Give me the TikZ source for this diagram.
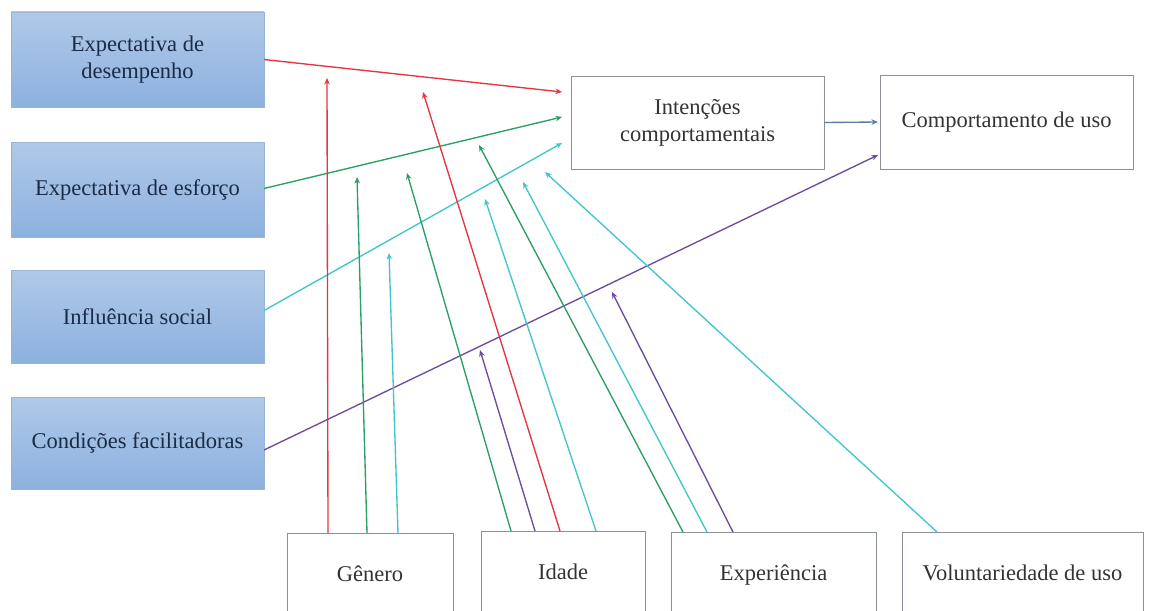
\documentclass[tikz,border=0pt]{standalone}
\usepackage{fontspec}
\setmainfont{Liberation Serif}
\usetikzlibrary{arrows.meta}

\definecolor{facTop}{HTML}{B0C9E9}
\definecolor{facBot}{HTML}{8CB1DE}
\definecolor{facEdge}{HTML}{9AB4D8}
\definecolor{facText}{HTML}{1C2B45}
\definecolor{boxEdge}{HTML}{8C9098}
\definecolor{boxText}{HTML}{333333}
\definecolor{lnRed}{HTML}{E8343E}
\definecolor{lnGreen}{HTML}{2BA062}
\definecolor{lnCyan}{HTML}{40C6CC}
\definecolor{lnPurple}{HTML}{6E4C9E}
\definecolor{lnSteel}{HTML}{5B7BA8}

\begin{document}
\begin{tikzpicture}[x=1pt,y=-1pt,
  txt/.style={font=\fontsize{22.5}{27}\selectfont, align=center},
  factor/.style={txt, text=facText, draw=facEdge, line width=0.8pt,
    top color=facTop, bottom color=facBot, minimum width=253, inner sep=0pt, outer sep=0pt},
  plainbox/.style={txt, text=boxText, draw=boxEdge, line width=1pt, fill=white,
    inner sep=0pt, outer sep=0pt},
  modbox/.style={plainbox, anchor=north, minimum height=84, text height=17pt, text depth=5pt},
  link/.style={line width=1.35pt, -{Stealth[length=6.5pt,width=5.5pt]}},
  redln/.style={link, lnRed},
  greenln/.style={link, lnGreen},
  cyanln/.style={link, lnCyan},
  purpleln/.style={link, lnPurple},
  steelln/.style={link, lnSteel}]

\clip (0,0) rectangle (1153,610);
\fill[white] (0,0) rectangle (1153,610);

% determinants
\node[factor, minimum height=95] (b1) at (137.5,59.5) {Expectativa de\\desempenho};
\node[factor, minimum height=95] (b2) at (137.5,189.5) {Expectativa de esforço};
\node[factor, minimum height=93] (b3) at (137.5,316.5) {Influência social};
\node[factor, minimum height=92] (b4) at (137.5,443) {Condições facilitadoras};

% outcomes
\node[plainbox, minimum width=253, minimum height=93] (int) at (697.5,122.5) {Intenções\\comportamentais};
\node[plainbox, minimum width=253, minimum height=94] (comp) at (1006.5,122) {Comportamento de uso};

% moderators
\node[modbox, minimum width=166] (gen) at (370,533) {Gênero};
\node[modbox, minimum width=164] (ida) at (563,531) {Idade};
\node[modbox, minimum width=205] (exp) at (773.5,532) {Experiência};
\node[modbox, minimum width=241] (vol) at (1022.5,532) {Voluntariedade de uso};

% arrow tips that end in open space (on or near other arrows)
\coordinate (tGenR) at (327,78);
\coordinate (tGenG) at (357,177);
\coordinate (tGenC) at (389,253);
\coordinate (tIdaG) at (407,173);
\coordinate (tIdaP) at (480,350);
\coordinate (tIdaR) at (423,92);
\coordinate (tIdaC) at (485,199);
\coordinate (tExpG) at (479,145);
\coordinate (tExpC) at (523,182);
\coordinate (tExpP) at (612,292);
\coordinate (tVolC) at (545,172);
\coordinate (inR) at (562,92);
\coordinate (inG) at (562,117);
\coordinate (inC) at (562,143);

% main paths
\draw[redln] (b1.east) -- (inR);
\draw[greenln] ([yshift=1pt]b2.east) -- (inG);
\draw[cyanln] ([yshift=6pt]b3.east) -- (inC);
\draw[purpleln] ([yshift=-7pt]b4.east) -- ([xshift=-2pt,yshift=-33pt]comp.west);
\draw[steelln] (int.east) -- ([xshift=-2pt]comp.west);

% moderating effects
\draw[redln] ([xshift=41pt]gen.north west) -- (tGenR);
\draw[greenln] ([xshift=80pt]gen.north west) -- (tGenG);
\draw[cyanln] ([xshift=111pt]gen.north west) -- (tGenC);

\draw[greenln] ([xshift=30pt]ida.north west) -- (tIdaG);
\draw[purpleln] ([xshift=54pt]ida.north west) -- (tIdaP);
\draw[redln] ([xshift=79pt]ida.north west) -- (tIdaR);
\draw[cyanln] ([xshift=115pt]ida.north west) -- (tIdaC);

\draw[greenln] ([xshift=12pt]exp.north west) -- (tExpG);
\draw[cyanln] ([xshift=36pt]exp.north west) -- (tExpC);
\draw[purpleln] ([xshift=62pt]exp.north west) -- (tExpP);

\draw[cyanln] ([xshift=35pt]vol.north west) -- (tVolC);
\end{tikzpicture}
\end{document}
